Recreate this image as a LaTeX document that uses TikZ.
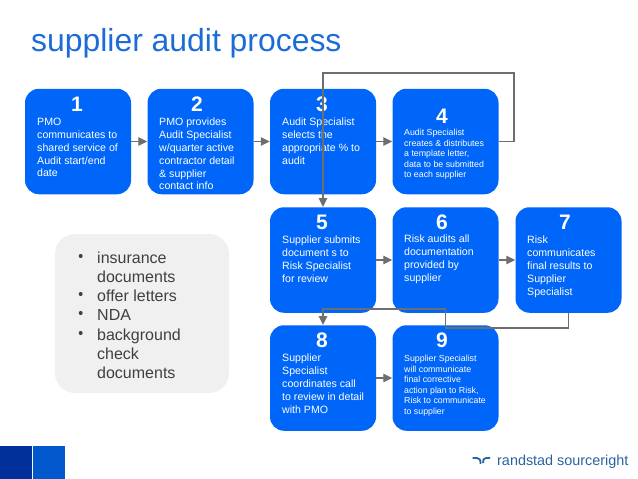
\documentclass[tikz,border=0pt]{standalone}
\usepackage{fontspec}
\setmainfont{Liberation Sans}
\usepackage{xcolor}
\usetikzlibrary{
    arrows.meta,
    calc
}
\definecolor{boxblue}{HTML}{0066FA}
\definecolor{titleblue}{HTML}{1C6CD8}
\definecolor{linegray}{HTML}{6E6E6E}
\definecolor{panelgray}{HTML}{F0F0F0}
\definecolor{logoblue}{HTML}{2A62A0}
\definecolor{darksquare}{HTML}{00309A}
\definecolor{lightsquare}{HTML}{0058CC}
\tikzset
{
  stepbox/.style={draw=none,fill=boxblue,rounded corners=14pt,minimum width=106pt,minimum height=105.5pt,inner sep=0pt},
  stepnum/.style={text=white,font=\fontsize{21}{21}\selectfont\bfseries,inner sep=0pt},
  steptext/.style={text=white,font=\fontsize{10.6}{12.8}\selectfont,align=left,anchor=north west,inner sep=0pt},
  smalltext/.style={text=white,font=\fontsize{8.8}{10.6}\selectfont,align=left,anchor=north west,inner sep=0pt},
  flow/.style={draw=linegray,line width=1.3pt,-{Triangle[length=9pt,width=8.5pt]}},
}
\begin{document}
\begin{tikzpicture}[x=1pt,y=-1pt]
        \useasboundingbox (0, 0) rectangle (638, 479);

        % Title
        \node[anchor=base west,inner sep=0pt,text=titleblue,font=\fontsize{31.9}{32}\selectfont] (title) at (31, 52) {supplier audit process};

        % Boxes
        \foreach \name/\x/\y in {one/78/141.5,two/200.5/141.5,three/323/141.5,four/445.5/141.5,five/323/260,six/445.5/260,seven/568.5/260,eight/323/378,nine/445.5/378}
            \node[stepbox] (\name) at (\x, \y) {};

        % Numbers
        \node[stepnum] (num1) at (77, 104) {1};
        \node[stepnum] (num2) at (197, 104) {2};
        \node[stepnum] (num3) at (322, 104) {3};
        \node[stepnum] (num4) at (442, 116.5) {4};
        \node[stepnum] (num5) at (322, 222.5) {5};
        \node[stepnum] (num6) at (442, 222.5) {6};
        \node[stepnum] (num7) at (565, 222.5) {7};
        \node[stepnum] (num8) at (322, 340.5) {8};
        \node[stepnum] (num9) at (442, 340.5) {9};

        % Step texts
        \node[steptext] (text1) at (37, 118) {PMO\\communicates to\\shared service of\\Audit start/end\\date};
        \node[steptext] (text2) at (159, 118) {PMO provides\\Audit Specialist\\w/quarter active\\contractor detail\\\& supplier\\contact info};
        \node[steptext] (text3) at (282, 118) {Audit Specialist\\selects the\\appropriate \% to\\audit};
        \node[smalltext] (text4) at (404, 129) {Audit Specialist\\creates \& distributes\\a template letter,\\data to be submitted\\to each supplier};
        \node[steptext] (text5) at (282, 236) {Supplier submits\\document s to\\Risk Specialist\\for review};
        \node[steptext] (text6) at (404, 235) {Risk audits all\\documentation\\provided by\\supplier};
        \node[steptext] (text7) at (527, 236) {Risk\\communicates\\final results to\\Supplier\\Specialist};
        \node[steptext] (text8) at (282, 354) {Supplier\\Specialist\\coordinates call\\to review in detail\\with PMO};
        \node[smalltext] (text9) at (404, 355) {Supplier Specialist\\will communicate\\final corrective\\action plan to Risk,\\Risk to communicate\\to supplier};

        % Grey panel
        \node[fill=panelgray,rounded corners=20pt,minimum width=174pt,minimum height=159pt,inner sep=0pt] (panel) at (142, 313.5) {};
        \node[anchor=north west,inner sep=0pt,text=black!75,font=\fontsize{16}{19.2}\selectfont,align=left] (bullets) at (97, 251.5) {insurance\\documents\\offer letters\\NDA\\background\\check\\documents};
        \foreach \y in {256,294,313,333}
            \fill[black!75] (80.7, \y) circle (2pt);

        % Connectors
        \draw[flow] (one.east) -- (two.west);
        \draw[flow] (two.east) -- (three.west);
        \draw[flow] (three.east) -- (four.west);
        \draw[flow] (five.east) -- (six.west);
        \draw[flow] (six.east) -- (seven.west);
        \draw[flow] (eight.east) -- (nine.west);
        \coordinate (upright) at (514, 73);
        \coordinate (midrun) at (445.5, 328);
        \coordinate (midup) at (445.5, 309);
        \draw[flow] (four.east) -| (upright) -| (five.north);
        \draw[flow] (seven.south) |- (midrun) -- (midup) -| (eight.north);

        % Footer
        \fill[darksquare] (0, 446) rectangle (32, 479);
        \fill[lightsquare] (33, 446) rectangle (64.5, 479);
        \draw[logoblue,line width=1.8pt] (472.5, 458) -- (477, 458) .. controls (480, 458) and (480.5, 460) .. (480.5, 464);
        \draw[logoblue,line width=1.8pt] (490, 458) -- (486, 458) .. controls (483.5, 458) and (483, 460) .. (483, 463);
        \node[anchor=base west,inner sep=0pt,text=logoblue,font=\fontsize{14.4}{15}\selectfont] (logo) at (497, 465) {randstad sourceright};
    \end{tikzpicture}
\end{document}
